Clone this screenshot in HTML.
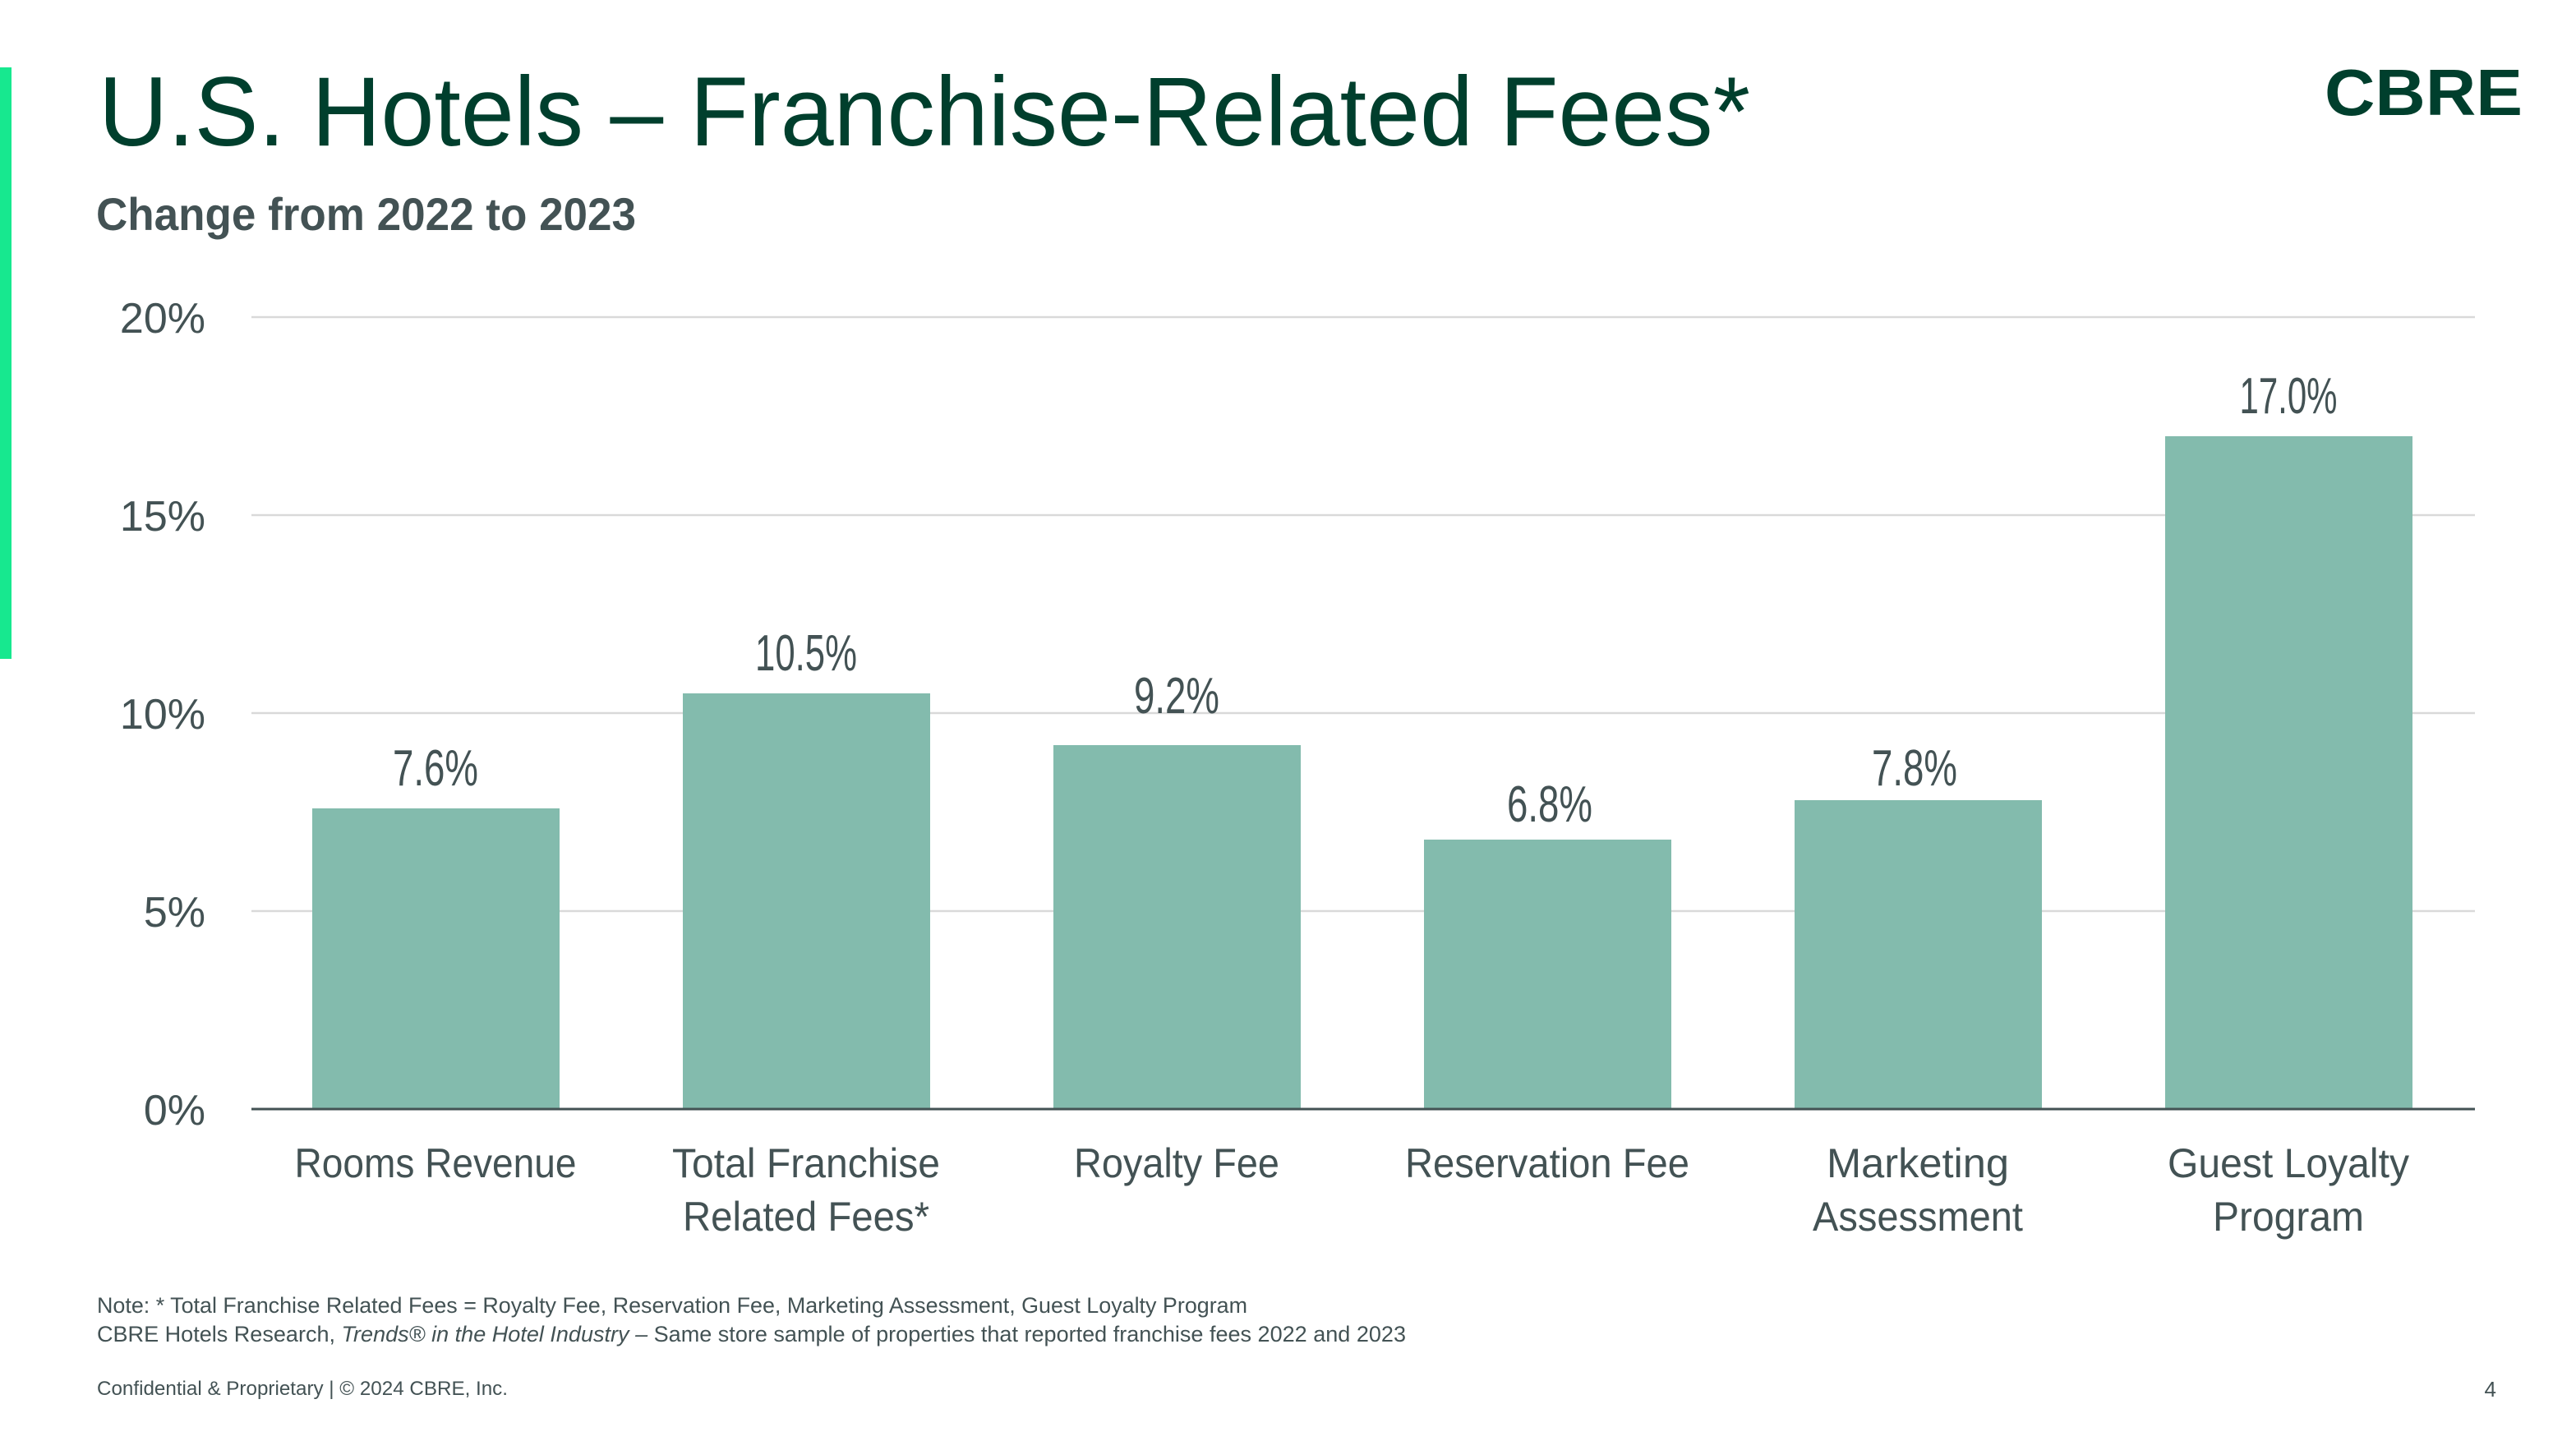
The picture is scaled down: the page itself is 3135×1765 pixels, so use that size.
<!DOCTYPE html>
<html><head><meta charset="utf-8"><style>
html,body{margin:0;padding:0;background:#fff;}
svg{display:block;}
text{font-family:"Liberation Sans",sans-serif;}
</style></head><body>
<svg width="3135" height="1765" viewBox="0 0 3135 1765" xmlns="http://www.w3.org/2000/svg">
<rect x="0" y="0" width="3135" height="1765" fill="#fff"/>
<rect x="0" y="82" width="14" height="720" fill="#17E88F"/>
<text x="120" y="177" font-size="120" fill="#003F2D" textLength="2010" lengthAdjust="spacingAndGlyphs">U.S. Hotels – Franchise-Related Fees*</text>
<text x="117" y="280" font-size="56" font-weight="bold" fill="#435254" textLength="657" lengthAdjust="spacingAndGlyphs">Change from 2022 to 2023</text>
<text x="2829" y="140" font-size="80" font-weight="900" fill="#003F2D" textLength="241" lengthAdjust="spacingAndGlyphs">CBRE</text>
<g stroke="#d9d9d9" stroke-width="2.5">
<line x1="306" y1="386" x2="3012" y2="386"/>
<line x1="306" y1="627" x2="3012" y2="627"/>
<line x1="306" y1="868" x2="3012" y2="868"/>
<line x1="306" y1="1109" x2="3012" y2="1109"/>
</g>
<g font-size="52" fill="#435254" text-anchor="end">
<text x="250" y="405">20%</text>
<text x="250" y="646">15%</text>
<text x="250" y="887">10%</text>
<text x="250" y="1128">5%</text>
<text x="250" y="1369">0%</text>
</g>
<g fill="#83BBAD">
<rect x="380" y="984" width="301" height="366"/>
<rect x="831" y="844" width="301" height="506"/>
<rect x="1282" y="907" width="301" height="443"/>
<rect x="1733" y="1022" width="301" height="328"/>
<rect x="2184" y="974" width="301" height="376"/>
<rect x="2635" y="531" width="301" height="819"/>
</g>
<line x1="306" y1="1350" x2="3012" y2="1350" stroke="#435254" stroke-width="3"/>
<g font-size="62" fill="#435254" text-anchor="middle">
<text x="530" y="956" textLength="104" lengthAdjust="spacingAndGlyphs">7.6%</text>
<text x="981" y="816" textLength="124" lengthAdjust="spacingAndGlyphs">10.5%</text>
<text x="1432" y="868" textLength="104" lengthAdjust="spacingAndGlyphs">9.2%</text>
<text x="1886" y="1000" textLength="104" lengthAdjust="spacingAndGlyphs">6.8%</text>
<text x="2330" y="956" textLength="104" lengthAdjust="spacingAndGlyphs">7.8%</text>
<text x="2785" y="503" textLength="119" lengthAdjust="spacingAndGlyphs">17.0%</text>
</g>
<g font-size="50" fill="#435254" text-anchor="middle">
<text x="530" y="1433" textLength="343" lengthAdjust="spacingAndGlyphs">Rooms Revenue</text>
<text x="981" y="1433" textLength="326" lengthAdjust="spacingAndGlyphs">Total Franchise</text>
<text x="981" y="1498" textLength="300" lengthAdjust="spacingAndGlyphs">Related Fees*</text>
<text x="1432" y="1433" textLength="250" lengthAdjust="spacingAndGlyphs">Royalty Fee</text>
<text x="1883" y="1433" textLength="346" lengthAdjust="spacingAndGlyphs">Reservation Fee</text>
<text x="2334" y="1433" textLength="222" lengthAdjust="spacingAndGlyphs">Marketing</text>
<text x="2334" y="1498" textLength="256" lengthAdjust="spacingAndGlyphs">Assessment</text>
<text x="2785" y="1433" textLength="294" lengthAdjust="spacingAndGlyphs">Guest Loyalty</text>
<text x="2785" y="1498" textLength="184" lengthAdjust="spacingAndGlyphs">Program</text>
</g>
<g font-size="27" fill="#435254">
<text x="118" y="1598" textLength="1400" lengthAdjust="spacingAndGlyphs">Note: *  Total Franchise Related Fees = Royalty Fee, Reservation Fee, Marketing Assessment, Guest Loyalty Program</text>
<text x="118" y="1633" textLength="1593" lengthAdjust="spacingAndGlyphs">CBRE Hotels Research, <tspan font-style="italic">Trends® in the Hotel Industry – </tspan>  Same store sample of properties that reported franchise fees 2022 and 2023</text>
<text x="118" y="1698" font-size="24" textLength="500" lengthAdjust="spacingAndGlyphs">Confidential &amp; Proprietary | © 2024 CBRE, Inc.</text>
<text x="3038" y="1700" font-size="26" text-anchor="end">4</text>
</g>
</svg>
</body></html>
